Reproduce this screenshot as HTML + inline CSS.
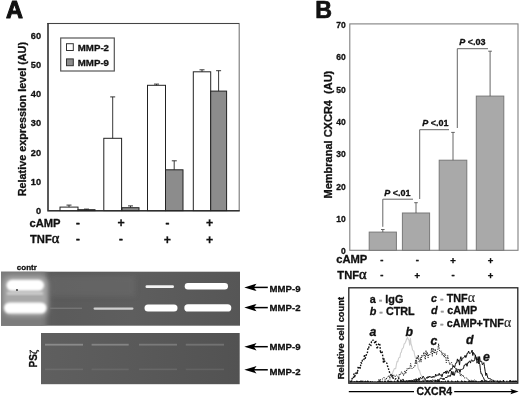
<!DOCTYPE html>
<html><head><meta charset="utf-8"><title>Figure</title>
<style>html,body{margin:0;padding:0;background:#fff}svg{display:block}text{stroke:#111;stroke-width:.3px;stroke-linejoin:round}tspan.n{stroke:none}</style></head>
<body><svg width="520" height="397" viewBox="0 0 520 397" font-family="Liberation Sans, sans-serif" fill="#111">
<rect width="520" height="397" fill="#fff"/>
<text x="6.1" y="18.3" font-size="23.5" font-weight="bold" style="stroke-width:1px">A</text>
<rect x="48" y="23.5" width="191.2" height="187.2" fill="#fff" stroke="#777" stroke-width="1.1"/><path d="M47.5 23.5H239" fill="none" stroke="#444" stroke-width="1.1"/><path d="M48 23V210.7H239.7" fill="none" stroke="#333" stroke-width="1.4"/>
<text x="41" y="214.3" font-size="9.2" font-weight="bold" text-anchor="end">0</text>
<text x="41" y="184.8" font-size="9.2" font-weight="bold" text-anchor="end">10</text>
<text x="41" y="155.6" font-size="9.2" font-weight="bold" text-anchor="end">20</text>
<text x="41" y="126.4" font-size="9.2" font-weight="bold" text-anchor="end">30</text>
<text x="41" y="97.3" font-size="9.2" font-weight="bold" text-anchor="end">40</text>
<text x="41" y="68.1" font-size="9.2" font-weight="bold" text-anchor="end">50</text>
<text x="41" y="39.0" font-size="9.2" font-weight="bold" text-anchor="end">60</text>
<text transform="translate(26,119.1) rotate(-90)" font-size="10.8" font-weight="bold" text-anchor="middle">Relative expression level (AU)</text>
<rect x="60.7" y="38" width="53.6" height="33" fill="#fff" stroke="#555" stroke-width="1.2"/>
<rect x="66.5" y="43.7" width="6.8" height="6.8" fill="#fff" stroke="#333" stroke-width="1"/>
<rect x="66.5" y="58.9" width="6.8" height="6.8" fill="#8c8c8c" stroke="#333" stroke-width="1"/>
<text x="77.8" y="51.3" font-size="9.7" font-weight="bold">MMP-2</text>
<text x="77.8" y="66.1" font-size="9.7" font-weight="bold">MMP-9</text>
<rect x="60.0" y="207.1" width="18.0" height="3.5" fill="#fff" stroke="#222" stroke-width="1"/>
<path d="M69.0 207.1V205.1M66.5 205.1H71.5" stroke="#222" stroke-width="0.9" fill="none"/>
<rect x="78.0" y="209.7" width="17.0" height="0.9" fill="#8c8c8c" stroke="#222" stroke-width="1"/>
<path d="M86.5 209.7V209.1M84.0 209.1H89.0" stroke="#222" stroke-width="0.9" fill="none"/>
<rect x="103.8" y="138.3" width="17.8" height="72.3" fill="#fff" stroke="#222" stroke-width="1"/>
<path d="M112.7 138.3V96.9M110.2 96.9H115.2" stroke="#222" stroke-width="0.9" fill="none"/>
<rect x="122.0" y="207.7" width="17.0" height="2.9" fill="#8c8c8c" stroke="#222" stroke-width="1"/>
<path d="M130.5 207.7V205.9M128.0 205.9H133.0" stroke="#222" stroke-width="0.9" fill="none"/>
<rect x="147.5" y="85.3" width="18.0" height="125.3" fill="#fff" stroke="#222" stroke-width="1"/>
<path d="M156.5 85.3V84.1M154.0 84.1H159.0" stroke="#222" stroke-width="0.9" fill="none"/>
<rect x="165.5" y="169.8" width="17.5" height="40.8" fill="#8c8c8c" stroke="#222" stroke-width="1"/>
<path d="M174.2 169.8V160.8M171.8 160.8H176.8" stroke="#222" stroke-width="0.9" fill="none"/>
<rect x="193.3" y="71.8" width="17.4" height="138.8" fill="#fff" stroke="#222" stroke-width="1"/>
<path d="M202.0 71.8V69.8M199.5 69.8H204.5" stroke="#222" stroke-width="0.9" fill="none"/>
<rect x="210.7" y="91.1" width="15.9" height="119.5" fill="#8c8c8c" stroke="#222" stroke-width="1"/>
<path d="M218.6 91.1V70.7M216.1 70.7H221.1" stroke="#222" stroke-width="0.9" fill="none"/>
<text x="29.5" y="227.2" font-size="11.2" font-weight="bold">cAMP</text>
<text x="30" y="242.9" font-size="11.2" font-weight="bold">TNF<tspan font-family="Liberation Serif, serif" font-weight="normal" font-size="14.5" style="stroke-width:.5px">α</tspan></text>
<text x="77.8" y="225.9" font-size="11.5" font-weight="bold" text-anchor="middle" style="stroke-width:.5px">-</text>
<text x="77.8" y="242.1" font-size="11.5" font-weight="bold" text-anchor="middle" style="stroke-width:.5px">-</text>
<text x="121.0" y="227.4" font-size="12.3" font-weight="bold" text-anchor="middle">+</text>
<text x="121.0" y="242.1" font-size="11.5" font-weight="bold" text-anchor="middle" style="stroke-width:.5px">-</text>
<text x="167.4" y="225.9" font-size="11.5" font-weight="bold" text-anchor="middle" style="stroke-width:.5px">-</text>
<text x="167.4" y="243.6" font-size="12.3" font-weight="bold" text-anchor="middle">+</text>
<text x="209.6" y="227.4" font-size="12.3" font-weight="bold" text-anchor="middle">+</text>
<text x="209.6" y="243.6" font-size="12.3" font-weight="bold" text-anchor="middle">+</text>
<text x="16.8" y="269.6" font-size="8" font-weight="bold">contr</text>
<defs><filter id="b1" x="-20%" y="-60%" width="140%" height="220%"><feGaussianBlur stdDeviation="0.9"/></filter><filter id="b2" x="-20%" y="-80%" width="140%" height="260%"><feGaussianBlur stdDeviation="0.6"/></filter><filter id="b3" x="-30%" y="-30%" width="160%" height="160%"><feGaussianBlur stdDeviation="2.5"/></filter><filter id="b4" x="-30%" y="-100%" width="160%" height="300%"><feGaussianBlur stdDeviation="1.6"/></filter><linearGradient id="gg1" x1="0" y1="0" x2="1" y2="0"><stop offset="0" stop-color="#666"/><stop offset="0.25" stop-color="#5b5b5b"/><stop offset="0.55" stop-color="#5e5e5e"/><stop offset="1" stop-color="#565656"/></linearGradient><linearGradient id="gg2" x1="0" y1="0" x2="1" y2="0"><stop offset="0" stop-color="#5f5f5f"/><stop offset="0.5" stop-color="#595959"/><stop offset="1" stop-color="#525252"/></linearGradient><clipPath id="g1"><rect x="1" y="271.7" width="239" height="54"/></clipPath><clipPath id="g2"><rect x="41" y="333" width="198.7" height="51.2"/></clipPath></defs>
<rect x="1" y="271.7" width="239" height="54" fill="url(#gg1)"/>
<g clip-path="url(#g1)">
<rect x="50" y="276" width="85" height="20" fill="#6a6a6a" opacity=".6" filter="url(#b3)"/>
<rect x="-4" y="268" width="50" height="62" fill="#7c7c7c" filter="url(#b3)"/>
<rect x="3" y="276" width="45" height="40" rx="8" fill="#a8a8a8" filter="url(#b3)"/>
<rect x="7" y="292.3" width="36" height="2.2" fill="#d8d8d8" filter="url(#b1)"/>
<rect x="6.5" y="279.8" width="37.5" height="11" rx="5.5" fill="#fff" filter="url(#b1)"/>
<rect x="4" y="302.5" width="42.5" height="11" rx="5.5" fill="#fff" filter="url(#b1)"/>
<circle cx="17" cy="290" r="0.9" fill="#222"/>
<rect x="145.5" y="285.3" width="28.5" height="2.8" rx="1.4" fill="#f2f2f2" filter="url(#b2)"/>
<rect x="184.7" y="283" width="43.3" height="6.4" rx="3.2" fill="#fff" filter="url(#b2)"/>
<rect x="50" y="307.6" width="32" height="1.4" fill="#757575" filter="url(#b2)"/>
<rect x="93.5" y="307.5" width="40" height="2.2" rx="1.1" fill="#cfcfcf" filter="url(#b2)"/>
<rect x="144.5" y="304.6" width="33" height="7" rx="3.5" fill="#fff" filter="url(#b2)"/>
<rect x="184.3" y="304.2" width="47" height="7.4" rx="3.7" fill="#fff" filter="url(#b2)"/>
</g>
<rect x="41" y="333" width="198.7" height="51.2" fill="url(#gg2)"/>
<g clip-path="url(#g2)">
<rect x="45.0" y="343.8" width="38.0" height="1.8" fill="#8a8a8a" filter="url(#b2)"/>
<rect x="45.0" y="368.6" width="38.0" height="1.6" fill="#6c6c6c" filter="url(#b2)"/>
<rect x="91.6" y="343.8" width="37.1" height="1.8" fill="#848484" filter="url(#b2)"/>
<rect x="91.6" y="368.6" width="37.1" height="1.6" fill="#686868" filter="url(#b2)"/>
<rect x="139.0" y="343.8" width="38.0" height="1.8" fill="#7a7a7a" filter="url(#b2)"/>
<rect x="139.0" y="368.6" width="38.0" height="1.6" fill="#676767" filter="url(#b2)"/>
<rect x="185.8" y="343.8" width="38.2" height="1.8" fill="#727272" filter="url(#b2)"/>
<rect x="185.8" y="368.6" width="38.2" height="1.6" fill="#636363" filter="url(#b2)"/>
</g>
<text transform="translate(37.3,367.5) rotate(-90)" font-size="10" font-weight="bold">PS<tspan font-family="Liberation Serif, serif" font-weight="normal" font-size="11">ζ</tspan></text>
<path d="M250 287.4H267.8" stroke="#000" stroke-width="1.5"/>
<path d="M244.3 287.4l12.2 -3.7l-2.6 3.7l2.6 3.7z" fill="#000"/>
<text x="269.6" y="291.6" font-size="9.6" font-weight="bold">MMP-9</text>
<path d="M250 307.6H267.8" stroke="#000" stroke-width="1.5"/>
<path d="M244.3 307.6l12.2 -3.7l-2.6 3.7l2.6 3.7z" fill="#000"/>
<text x="269.6" y="311.2" font-size="9.6" font-weight="bold">MMP-2</text>
<path d="M250 346.7H267.8" stroke="#000" stroke-width="1.5"/>
<path d="M244.3 346.7l12.2 -3.7l-2.6 3.7l2.6 3.7z" fill="#000"/>
<text x="269.6" y="350.2" font-size="9.6" font-weight="bold">MMP-9</text>
<path d="M250 369.8H267.8" stroke="#000" stroke-width="1.5"/>
<path d="M244.3 369.8l12.2 -3.7l-2.6 3.7l2.6 3.7z" fill="#000"/>
<text x="269.6" y="374.6" font-size="9.6" font-weight="bold">MMP-2</text>
<text x="315.2" y="18.3" font-size="23.2" font-weight="bold" style="stroke-width:0.7px">B</text>
<rect x="349.8" y="23.9" width="168.2" height="226.4" fill="#fff" stroke="#808080" stroke-width="1.1"/>
<text x="345.8" y="254.2" font-size="8.5" font-weight="bold" text-anchor="end">0</text>
<text x="345.8" y="221.9" font-size="8.5" font-weight="bold" text-anchor="end">10</text>
<text x="345.8" y="189.6" font-size="8.5" font-weight="bold" text-anchor="end">20</text>
<text x="345.8" y="157.3" font-size="8.5" font-weight="bold" text-anchor="end">30</text>
<text x="345.8" y="125.0" font-size="8.5" font-weight="bold" text-anchor="end">40</text>
<text x="345.8" y="92.7" font-size="8.5" font-weight="bold" text-anchor="end">50</text>
<text x="345.8" y="60.4" font-size="8.5" font-weight="bold" text-anchor="end">60</text>
<text x="345.8" y="28.1" font-size="8.5" font-weight="bold" text-anchor="end">70</text>
<text transform="translate(331.6,134.6) rotate(-90)" font-size="11" font-weight="bold" text-anchor="middle" xml:space="preserve">Membranal CXCR4  (AU)</text>
<rect x="369.2" y="232.1" width="27.2" height="18.2" fill="#a9a9a9" stroke="#787878" stroke-width="1"/>
<path d="M382.8 232.1V229.5M381.0 229.5H384.6" stroke="#555" stroke-width="0.9" fill="none"/>
<rect x="402.4" y="213.0" width="27.2" height="37.3" fill="#a9a9a9" stroke="#787878" stroke-width="1"/>
<path d="M416.0 213.0V202.7M414.2 202.7H417.8" stroke="#555" stroke-width="0.9" fill="none"/>
<rect x="439.2" y="160.2" width="27.6" height="90.1" fill="#a9a9a9" stroke="#787878" stroke-width="1"/>
<path d="M453.0 160.2V132.4M451.2 132.4H454.8" stroke="#555" stroke-width="0.9" fill="none"/>
<rect x="476.3" y="96.1" width="27.5" height="154.2" fill="#a9a9a9" stroke="#787878" stroke-width="1"/>
<path d="M490.1 96.1V51.2M488.2 51.2H491.9" stroke="#555" stroke-width="0.9" fill="none"/>
<path d="M382.8 226.8V199.2H413M419.7 199V129.7H449M457.3 128V48.7H488" stroke="#555" stroke-width="0.9" fill="none"/>
<text x="384.3" y="195.5" font-size="9" font-weight="bold"><tspan font-style="italic">P</tspan> &lt;.01</text>
<text x="422.2" y="126.2" font-size="9" font-weight="bold"><tspan font-style="italic">P</tspan> &lt;.01</text>
<text x="459.3" y="45.3" font-size="9" font-weight="bold"><tspan font-style="italic">P</tspan> &lt;.03</text>
<text x="336.2" y="263.2" font-size="11.2" font-weight="bold">cAMP</text>
<text x="337.3" y="278.6" font-size="11.2" font-weight="bold">TNF<tspan font-family="Liberation Serif, serif" font-weight="normal" font-size="14.5" style="stroke-width:.5px">α</tspan></text>
<text x="381.8" y="263.4" font-size="9.5" font-weight="bold" text-anchor="middle" style="stroke-width:.4px">-</text>
<text x="381.8" y="278.4" font-size="9.5" font-weight="bold" text-anchor="middle" style="stroke-width:.4px">-</text>
<text x="417.3" y="263.4" font-size="9.5" font-weight="bold" text-anchor="middle" style="stroke-width:.4px">-</text>
<text x="417.3" y="278.9" font-size="9.5" font-weight="bold" text-anchor="middle" style="stroke-width:.4px">+</text>
<text x="453.1" y="263.9" font-size="9.5" font-weight="bold" text-anchor="middle" style="stroke-width:.4px">+</text>
<text x="453.1" y="278.4" font-size="9.5" font-weight="bold" text-anchor="middle" style="stroke-width:.4px">-</text>
<text x="490.5" y="263.9" font-size="9.5" font-weight="bold" text-anchor="middle" style="stroke-width:.4px">+</text>
<text x="490.5" y="278.9" font-size="9.5" font-weight="bold" text-anchor="middle" style="stroke-width:.4px">+</text>
<rect x="348.8" y="287.8" width="169" height="95.4" fill="#fff" stroke="#222" stroke-width="1.3"/>
<text transform="translate(344.3,338) rotate(-90)" font-size="9.4" font-weight="bold" text-anchor="middle">Relative cell count</text>
<text x="369.7" y="303.2" font-size="10.8" font-weight="bold" xml:space="preserve"><tspan font-style="normal">a</tspan><tspan fill="#999" stroke="#999"> - </tspan>IgG</text>
<text x="369.7" y="314.7" font-size="10.8" font-weight="bold" xml:space="preserve"><tspan font-style="italic">b</tspan><tspan fill="#999" stroke="#999"> - </tspan>CTRL</text>
<text x="431.0" y="302.3" font-size="10.8" font-weight="bold" xml:space="preserve"><tspan font-style="italic">c</tspan><tspan fill="#999" stroke="#999"> - </tspan>TNF<tspan font-family="Liberation Serif, serif" font-weight="normal" font-size="13.8" fill="#333" style="stroke-width:0.2px">α</tspan></text>
<text x="431.0" y="313.6" font-size="10.8" font-weight="bold" xml:space="preserve"><tspan font-style="italic">d</tspan><tspan fill="#999" stroke="#999"> - </tspan>cAMP</text>
<text x="431.0" y="326.6" font-size="10.8" font-weight="bold" xml:space="preserve"><tspan font-style="italic">e</tspan><tspan fill="#999" stroke="#999"> - </tspan>cAMP+TNF<tspan font-family="Liberation Serif, serif" font-weight="normal" font-size="13.8" fill="#333" style="stroke-width:0.2px">α</tspan></text>
<text x="369.5" y="335.6" font-size="12.3" font-weight="bold" font-style="italic">a</text>
<text x="405.6" y="336.0" font-size="12.3" font-weight="bold" font-style="italic">b</text>
<text x="430.6" y="345.2" font-size="12.3" font-weight="bold" font-style="italic">c</text>
<text x="466.0" y="344.3" font-size="12.3" font-weight="bold" font-style="italic">d</text>
<text x="483.0" y="360.8" font-size="12.3" font-weight="bold" font-style="italic">e</text>
<g fill="none" stroke-linejoin="round" stroke-linecap="butt">
<polyline points="388.0,381.4 388.7,380.5 389.4,378.7 390.1,379.5 390.8,376.8 391.5,375.8 392.2,375.0 392.9,372.0 393.6,370.4 394.3,368.8 395.0,368.5 395.7,368.7 396.4,364.5 397.1,361.4 397.8,361.7 398.5,358.5 399.2,357.5 399.9,357.4 400.6,352.9 401.3,352.3 402.0,349.2 402.7,348.5 403.4,347.5 404.1,344.0 404.8,343.5 405.5,342.2 406.2,340.2 406.9,338.5 407.6,337.4 408.3,339.5 409.0,340.0 409.7,345.1 410.4,338.2 411.1,344.2 411.8,346.2 412.5,349.8 413.2,350.8 413.9,351.1 414.6,354.7 415.3,357.7 416.0,358.9 416.7,362.6 417.4,361.9 418.1,368.1 418.8,369.8 419.5,370.2 420.2,373.1 420.9,374.7 421.6,375.7 422.3,377.6 423.0,379.5 423.7,379.3 424.4,379.7 425.1,380.3 425.8,380.9 426.5,381.5" stroke="#cdcdcd" stroke-width="1.1"/>
<polyline points="350.5,382.2 351.2,380.2 351.9,379.2 352.6,377.7 353.3,378.4 354.0,373.9 354.7,377.6 355.4,373.3 356.1,373.6 356.8,371.6 357.5,373.1 358.2,366.2 358.9,367.9 359.6,366.5 360.3,368.1 361.0,362.6 361.7,363.2 362.4,360.2 363.1,360.5 363.8,360.2 364.5,354.5 365.2,358.4 365.9,356.4 366.6,353.9 367.3,353.5 368.0,347.6 368.7,347.9 369.4,344.3 370.1,344.9 370.8,346.2 371.5,341.5 372.2,341.5 372.9,340.1 373.6,340.4 374.3,341.7 375.0,343.8 375.7,340.3 376.4,344.2 377.1,349.0 377.8,346.6 378.5,344.3 379.2,343.2 379.9,344.8 380.6,353.2 381.3,351.0 382.0,351.6 382.7,355.7 383.4,362.1 384.1,359.0 384.8,361.9 385.5,362.8 386.2,363.0 386.9,363.1 387.6,366.3 388.3,368.0 389.0,370.8 389.7,372.7 390.4,374.1 391.1,374.6 391.8,376.7 392.5,375.6 393.2,378.3 393.9,378.1 394.6,377.9 395.3,379.0 396.0,378.7 396.7,379.9 397.4,380.4 398.1,381.0 398.8,378.4 399.5,378.6 400.2,379.5 400.9,380.2 401.6,380.9 402.3,380.7 403.0,379.5 403.7,380.7" stroke="#111" stroke-width="1.4" stroke-dasharray="1.6 1.5"/>
<polyline points="377.0,382.2 377.7,381.4 378.4,380.9 379.1,379.1 379.8,379.9 380.5,379.5 381.2,379.4 381.9,378.7 382.6,379.0 383.3,378.4 384.0,377.3 384.7,379.3 385.4,379.1 386.1,379.8 386.8,377.8 387.5,377.1 388.2,376.7 388.9,375.3 389.6,378.1 390.3,375.4 391.0,375.0 391.7,376.2 392.4,378.2 393.1,376.6 393.8,375.0 394.5,375.3 395.2,376.9 395.9,375.9 396.6,375.0 397.3,375.6 398.0,376.8 398.7,378.3 399.4,373.9 400.1,374.5 400.8,374.1 401.5,371.8 402.2,373.6 402.9,373.0 403.6,375.7 404.3,373.4 405.0,370.6 405.7,373.7 406.4,371.5 407.1,368.4 407.8,369.6 408.5,368.9 409.2,367.7 409.9,368.7 410.6,363.5 411.3,366.7 412.0,368.6 412.7,367.6 413.4,367.5 414.1,366.9 414.8,367.0 415.5,360.2 416.2,364.0 416.9,356.7 417.6,359.0 418.3,354.9 419.0,361.8 419.7,362.0 420.4,357.5 421.1,362.1 421.8,355.0 422.5,356.7 423.2,356.1 423.9,352.1 424.6,355.8 425.3,359.5 426.0,350.4 426.7,355.6 427.4,352.4 428.1,357.9 428.8,354.1 429.5,354.6 430.2,354.4 430.9,353.1 431.6,348.1 432.3,356.2 433.0,347.9 433.7,352.5 434.4,353.4 435.1,348.9 435.8,351.6 436.5,354.6 437.2,351.4 437.9,349.2 438.6,343.7 439.3,349.8 440.0,351.3 440.7,351.9 441.4,350.9 442.1,355.1 442.8,352.9 443.5,354.7 444.2,357.3 444.9,353.5 445.6,355.5 446.3,362.8 447.0,360.3 447.7,355.6 448.4,359.7 449.1,362.3 449.8,364.8 450.5,363.2 451.2,362.5 451.9,362.8 452.6,366.5 453.3,366.5 454.0,365.5 454.7,366.9 455.4,367.2 456.1,370.1 456.8,368.1 457.5,371.1 458.2,372.6 458.9,372.8 459.6,371.6 460.3,375.8 461.0,373.8 461.7,376.2 462.4,375.6 463.1,374.8 463.8,377.5 464.5,377.9 465.2,377.8 465.9,378.5 466.6,378.0 467.3,378.3 468.0,379.2 468.7,381.2 469.4,380.6 470.1,379.9 470.8,380.8 471.5,380.1 472.2,380.3 472.9,381.2 473.6,380.4 474.3,379.8 475.0,380.3 475.7,381.0 476.4,381.1 477.1,381.8 477.8,380.9 478.5,381.7 479.2,381.6 479.9,381.4" stroke="#222" stroke-width="1" stroke-dasharray="1.3 1.2"/>
<polyline points="400.0,381.5 400.7,381.6 401.4,381.0 402.1,381.6 402.8,381.1 403.5,380.5 404.2,380.9 404.9,381.4 405.6,381.2 406.3,380.4 407.0,381.2 407.7,380.8 408.4,381.0 409.1,380.9 409.8,380.1 410.5,380.8 411.2,380.2 411.9,381.4 412.6,380.8 413.3,380.2 414.0,379.4 414.7,379.9 415.4,379.8 416.1,378.6 416.8,380.9 417.5,379.4 418.2,380.2 418.9,377.9 419.6,379.9 420.3,377.4 421.0,377.8 421.7,378.7 422.4,378.2 423.1,376.1 423.8,377.1 424.5,378.7 425.2,379.7 425.9,378.6 426.6,377.4 427.3,378.3 428.0,376.5 428.7,377.8 429.4,376.0 430.1,377.1 430.8,376.8 431.5,377.6 432.2,376.4 432.9,377.7 433.6,376.2 434.3,377.1 435.0,376.9 435.7,374.1 436.4,375.9 437.1,375.8 437.8,374.7 438.5,375.4 439.2,373.3 439.9,375.3 440.6,375.0 441.3,374.4 442.0,376.8 442.7,374.0 443.4,373.3 444.1,372.0 444.8,373.1 445.5,371.2 446.2,373.7 446.9,370.7 447.6,371.3 448.3,373.4 449.0,371.7 449.7,369.9 450.4,371.1 451.1,368.4 451.8,369.3 452.5,367.5 453.2,365.5 453.9,367.2 454.6,367.6 455.3,364.7 456.0,362.7 456.7,363.0 457.4,358.9 458.1,361.4 458.8,359.8 459.5,365.1 460.2,359.4 460.9,356.7 461.6,360.9 462.3,358.2 463.0,358.0 463.7,357.7 464.4,357.2 465.1,355.3 465.8,357.6 466.5,356.1 467.2,353.2 467.9,353.4 468.6,351.0 469.3,353.2 470.0,353.7 470.7,352.9 471.4,352.2 472.1,350.1 472.8,355.5 473.5,352.5 474.2,354.1 474.9,354.3 475.6,356.4 476.3,357.1 477.0,363.2 477.7,361.3 478.4,358.7 479.1,363.1 479.8,364.3 480.5,370.7 481.2,374.0 481.9,373.7 482.6,376.5 483.3,377.3 484.0,379.0 484.7,380.8 485.4,380.5 486.1,380.3 486.8,381.3 487.5,381.3 488.2,381.4 488.9,381.6 489.6,381.0 490.3,380.5 491.0,381.8 491.7,381.3" stroke="#111" stroke-width="1"/>
<polyline points="404.0,381.7 404.7,381.4 405.4,382.2 406.1,381.3 406.8,381.5 407.5,382.0 408.2,381.0 408.9,381.1 409.6,381.4 410.3,381.2 411.0,380.8 411.7,381.2 412.4,381.1 413.1,381.5 413.8,380.5 414.5,380.9 415.2,381.7 415.9,382.0 416.6,380.5 417.3,381.4 418.0,380.7 418.7,380.7 419.4,380.7 420.1,380.9 420.8,381.5 421.5,381.3 422.2,381.0 422.9,380.8 423.6,380.9 424.3,380.8 425.0,381.2 425.7,380.4 426.4,380.7 427.1,380.6 427.8,380.6 428.5,380.7 429.2,380.6 429.9,381.2 430.6,380.4 431.3,381.3 432.0,380.2 432.7,380.0 433.4,380.3 434.1,380.4 434.8,380.3 435.5,380.9 436.2,380.8 436.9,380.3 437.6,379.7 438.3,379.6 439.0,380.5 439.7,379.4 440.4,378.1 441.1,378.3 441.8,378.2 442.5,379.4 443.2,378.1 443.9,379.9 444.6,378.4 445.3,377.7 446.0,377.0 446.7,378.0 447.4,376.5 448.1,375.5 448.8,376.6 449.5,375.6 450.2,376.5 450.9,374.8 451.6,371.3 452.3,375.1 453.0,371.6 453.7,375.3 454.4,375.4 455.1,372.1 455.8,370.6 456.5,369.8 457.2,372.4 457.9,370.4 458.6,369.4 459.3,369.4 460.0,372.4 460.7,369.3 461.4,369.5 462.1,369.1 462.8,369.0 463.5,368.6 464.2,365.1 464.9,365.4 465.6,363.9 466.3,363.5 467.0,366.3 467.7,362.8 468.4,363.0 469.1,361.3 469.8,361.0 470.5,363.1 471.2,360.3 471.9,359.8 472.6,361.3 473.3,360.9 474.0,361.1 474.7,359.4 475.4,355.0 476.1,359.7 476.8,359.2 477.5,360.1 478.2,356.6 478.9,364.0 479.6,356.6 480.3,361.6 481.0,361.3 481.7,361.3 482.4,364.8 483.1,363.9 483.8,362.6 484.5,366.8 485.2,371.3 485.9,375.6 486.6,373.1 487.3,375.9 488.0,378.3 488.7,378.5 489.4,378.6 490.1,378.5 490.8,379.0 491.5,380.1 492.2,380.5 492.9,379.9 493.6,380.4 494.3,381.4 495.0,381.2 495.7,381.1 496.4,381.2 497.1,381.1 497.8,381.8 498.5,382.1 499.2,382.2 499.9,381.8" stroke="#111" stroke-width="1"/>
<polygon points="349.4,382.6 349.4,380.0 350.2,381.3 351.0,381.2 351.8,379.2 352.6,381.6 353.4,381.3 354.2,381.1 355.0,381.3 355.8,381.2 356.6,380.6 357.4,380.8 358.2,381.2 359.0,381.0 359.8,381.1 360.6,380.4 361.4,380.6 362.2,380.9 363.0,380.2 363.8,381.6 364.6,381.0 365.4,380.6 366.2,381.3 367.0,380.9 367.8,380.2 368.6,381.0 369.4,381.5 370.2,380.9 371.0,381.0 371.8,381.4 372.6,381.1 373.4,381.4 374.2,381.2 375.0,381.4 375.8,381.3 376.6,381.5 377.4,381.5 378.2,381.3 379.0,380.3 379.8,380.2 380.6,380.4 381.4,381.4 382.2,380.5 383.0,381.4 383.8,381.5 384.6,380.6 385.4,380.6 386.2,381.4 387.0,381.5 387.8,380.1 388.6,380.5 389.4,381.1 390.2,381.0 391.0,380.6 391.8,381.1 392.6,381.2 393.4,381.5 394.2,380.5 395.0,380.8 395.8,381.5 396.6,381.3 397.4,380.2 398.2,380.4 399.0,380.9 399.8,381.5 400.6,379.7 401.4,380.9 402.2,381.1 403.0,380.2 403.8,380.6 404.6,381.2 405.4,381.1 406.2,381.2 407.0,381.1 407.8,381.3 408.6,380.4 409.4,380.7 410.2,381.1 411.0,381.0 411.8,381.0 412.6,379.9 413.4,381.0 414.2,380.0 415.0,380.8 415.8,379.9 416.6,380.6 417.4,381.0 418.2,381.2 419.0,380.9 419.8,380.8 420.6,381.5 421.4,381.1 422.2,381.4 423.0,380.4 423.8,380.7 424.6,381.5 425.4,381.4 426.2,380.8 427.0,380.5 427.8,380.6 428.6,381.2 429.4,380.8 430.2,381.5 431.0,380.1 431.8,381.0 432.6,380.9 433.4,381.6 434.2,381.6 435.0,380.0 435.8,379.6 436.6,381.6 437.4,379.9 438.2,379.8 439.0,379.8 439.8,380.8 440.6,381.4 441.4,381.1 442.2,381.1 443.0,381.5 443.8,381.0 444.6,381.5 445.4,380.2 446.2,381.4 447.0,381.4 447.8,380.0 448.6,380.6 449.4,381.6 450.2,381.2 451.0,381.5 451.8,380.1 452.6,381.3 453.4,381.2 454.2,381.5 455.0,380.9 455.8,380.7 456.6,381.4 457.4,380.2 458.2,380.8 459.0,381.6 459.8,381.2 460.6,381.5 461.4,380.2 462.2,380.8 463.0,381.3 463.8,381.5 464.6,380.4 465.4,381.0 466.2,381.1 467.0,381.4 467.8,381.2 468.6,381.1 469.4,380.8 470.2,381.0 471.0,381.1 471.8,380.8 472.6,380.6 473.4,380.9 474.2,381.1 475.0,381.3 475.8,380.5 476.6,380.7 477.4,381.5 478.2,381.2 479.0,381.5 479.8,381.0 480.6,381.0 481.4,380.0 482.2,380.2 483.0,380.2 483.8,381.5 484.6,380.8 485.4,381.3 486.2,380.8 487.0,381.3 487.8,381.2 488.6,381.0 489.4,381.0 490.2,381.4 491.0,381.4 491.8,380.6 492.6,381.5 493.4,380.3 494.2,380.3 495.0,381.5 495.8,381.4 496.6,381.5 497.4,380.2 498.2,380.4 499.0,381.6 499.8,380.3 500.6,380.6 501.4,381.0 502.2,381.6 503.0,380.1 503.8,380.1 504.6,381.2 505.4,381.6 506.2,381.2 507.0,380.2 507.8,381.5 508.6,381.3 509.4,380.2 510.2,380.1 511.0,380.2 511.8,381.3 512.6,380.6 513.4,380.4 514.2,380.8 515.0,380.4 515.8,380.4 516.6,380.6 517.4,381.4 517.6,382.6" fill="#111" stroke="none"/>
</g>
<path d="M348.8 391.6H414M454.2 391.6H512" stroke="#000" stroke-width="1.2"/>
<path d="M518.6 391.6l-8.2 -2.6l1.6 2.6l-1.6 2.6z" fill="#000"/>
<text x="434.3" y="395.2" font-size="10.5" font-weight="bold" text-anchor="middle">CXCR4</text>
</svg></body></html>
